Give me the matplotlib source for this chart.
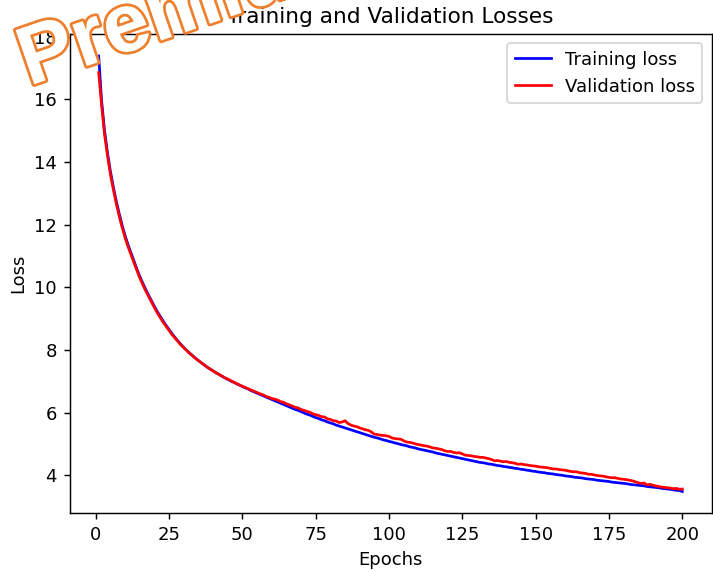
import matplotlib
matplotlib.use("Agg")
import matplotlib.pyplot as plt
import matplotlib.patheffects as pe

# loss per epoch
train_loss = [
    17.38, 15.95, 15.00, 14.30, 13.70, 13.20, 12.75, 12.35, 11.98, 11.65,
    11.36, 11.10, 10.84, 10.59, 10.35, 10.14, 9.94, 9.75, 9.57, 9.39,
    9.22, 9.07, 8.92, 8.78, 8.65, 8.52, 8.40, 8.29, 8.18, 8.08,
    7.99, 7.90, 7.82, 7.74, 7.66, 7.59, 7.52, 7.45, 7.39, 7.33,
    7.27, 7.22, 7.16, 7.11, 7.06, 7.01, 6.97, 6.92, 6.88, 6.83,
    6.79, 6.75, 6.70, 6.66, 6.62, 6.58, 6.54, 6.50, 6.46, 6.42,
    6.38, 6.34, 6.30, 6.26, 6.22, 6.18, 6.14, 6.10, 6.07, 6.03,
    5.99, 5.95, 5.92, 5.88, 5.84, 5.81, 5.77, 5.74, 5.70, 5.67,
    5.64, 5.60, 5.57, 5.54, 5.51, 5.48, 5.45, 5.42, 5.39, 5.36,
    5.33, 5.30, 5.27, 5.24, 5.21, 5.19, 5.16, 5.13, 5.11, 5.08,
    5.06, 5.03, 5.01, 4.98, 4.96, 4.94, 4.91, 4.89, 4.87, 4.84,
    4.82, 4.80, 4.78, 4.76, 4.74, 4.71, 4.69, 4.67, 4.65, 4.63,
    4.61, 4.59, 4.57, 4.55, 4.53, 4.51, 4.49, 4.47, 4.45, 4.43,
    4.41, 4.40, 4.38, 4.36, 4.35, 4.33, 4.31, 4.30, 4.28, 4.27,
    4.25, 4.24, 4.22, 4.21, 4.19, 4.18, 4.16, 4.15, 4.13, 4.12,
    4.10, 4.09, 4.08, 4.06, 4.05, 4.04, 4.02, 4.01, 4.00, 3.98,
    3.97, 3.96, 3.94, 3.93, 3.92, 3.91, 3.89, 3.88, 3.87, 3.86,
    3.84, 3.83, 3.82, 3.81, 3.80, 3.78, 3.77, 3.76, 3.75, 3.74,
    3.73, 3.71, 3.70, 3.69, 3.68, 3.67, 3.66, 3.64, 3.63, 3.62,
    3.61, 3.60, 3.58, 3.57, 3.56, 3.55, 3.53, 3.52, 3.51, 3.48,
]

val_loss = [
    16.85, 15.80, 14.88, 14.20, 13.60, 13.12, 12.67, 12.27, 11.91, 11.58,
    11.30, 11.04, 10.79, 10.54, 10.30, 10.09, 9.89, 9.71, 9.53, 9.35,
    9.18, 9.03, 8.88, 8.75, 8.62, 8.49, 8.38, 8.27, 8.16, 8.07,
    7.98, 7.89, 7.81, 7.73, 7.66, 7.59, 7.52, 7.45, 7.39, 7.33,
    7.27, 7.22, 7.17, 7.11, 7.07, 7.02, 6.97, 6.93, 6.88, 6.84,
    6.80, 6.76, 6.72, 6.68, 6.64, 6.60, 6.57, 6.52, 6.49, 6.45,
    6.43, 6.40, 6.35, 6.33, 6.28, 6.25, 6.21, 6.17, 6.15, 6.10,
    6.07, 6.04, 6.01, 5.96, 5.93, 5.91, 5.87, 5.86, 5.80, 5.78,
    5.74, 5.73, 5.68, 5.70, 5.74, 5.65, 5.60, 5.57, 5.55, 5.51,
    5.48, 5.45, 5.43, 5.38, 5.31, 5.30, 5.28, 5.27, 5.26, 5.24,
    5.19, 5.17, 5.16, 5.15, 5.10, 5.06, 5.05, 5.03, 5.00, 4.98,
    4.96, 4.94, 4.93, 4.90, 4.87, 4.86, 4.84, 4.82, 4.78, 4.76,
    4.76, 4.73, 4.71, 4.72, 4.68, 4.64, 4.63, 4.62, 4.60, 4.59,
    4.57, 4.57, 4.55, 4.53, 4.50, 4.46, 4.47, 4.45, 4.43, 4.44,
    4.41, 4.40, 4.38, 4.35, 4.36, 4.34, 4.33, 4.31, 4.30, 4.29,
    4.27, 4.26, 4.25, 4.24, 4.22, 4.20, 4.20, 4.18, 4.17, 4.16,
    4.14, 4.12, 4.11, 4.11, 4.08, 4.07, 4.06, 4.03, 4.03, 4.01,
    3.99, 3.98, 3.97, 3.95, 3.93, 3.92, 3.92, 3.90, 3.88, 3.87,
    3.86, 3.84, 3.82, 3.79, 3.76, 3.74, 3.75, 3.69, 3.71, 3.68,
    3.66, 3.64, 3.62, 3.61, 3.60, 3.59, 3.57, 3.58, 3.55, 3.56,
]

epochs = list(range(1, len(train_loss) + 1))

W, H, DPI = 713, 572, 130
fig = plt.figure(figsize=(W / DPI, H / DPI), dpi=DPI)
ax = fig.add_axes([69.5 / W, 58.7 / H, 642 / W, 479 / H])

ax.plot(epochs, train_loss, color='blue', label='Training loss')
ax.plot(epochs, val_loss, color='red', label='Validation loss')
ax.set_title('Training and Validation Losses')
ax.set_xlabel('Epochs')
ax.set_ylabel('Loss')
ax.legend(loc='upper right')

# watermark across the top left corner
fig.text(29 / W, 1 - 86 / H, 'Premium', fontsize=46, fontweight='bold',
         family='Liberation Sans', color='white', rotation=19,
         rotation_mode='anchor', ha='left', va='baseline', zorder=10,
         path_effects=[pe.withStroke(linewidth=3, foreground='#ee7f2d')])

fig.savefig('out.png', dpi=DPI)
